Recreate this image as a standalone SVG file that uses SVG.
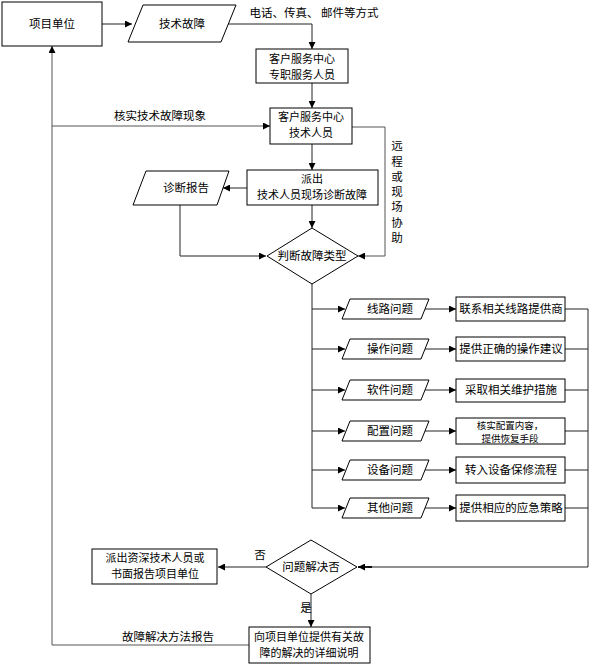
<svg xmlns="http://www.w3.org/2000/svg" width="592" height="666" viewBox="0 0 592 666">
<defs>
<style>
.n{fill:#fff;stroke:#000;stroke-width:1}
.t{font-family:"Noto Sans CJK SC","Liberation Sans",sans-serif;font-size:11.5px;fill:#000;text-anchor:middle}
.m{font-size:11px}
.s{font-size:9.5px}
.c{fill:none;stroke:#222;stroke-width:1}
.g{stroke:#555}
.b{stroke-width:1.8;stroke:#000}
</style>
<marker id="a" viewBox="0 0 10 10" refX="10" refY="5" markerWidth="9" markerHeight="7" markerUnits="userSpaceOnUse" orient="auto"><path d="M0,0 L10,5 L0,10 z" fill="#000"/></marker>
</defs>
<rect width="592" height="666" fill="#fff"/>
<g id="connectors">
<path class="c" d="M102,24 H132" marker-end="url(#a)"/>
<path class="c" d="M228,24 H312 V49" marker-end="url(#a)"/>
<path class="c" d="M312,83 V108" marker-end="url(#a)"/>
<path class="c" d="M312,144 V170" marker-end="url(#a)"/>
<path class="c" d="M312,205 V228" marker-end="url(#a)"/>
<path class="c" d="M247,188 H223" marker-end="url(#a)"/>
<path class="c" d="M180,205 V256 H266" marker-end="url(#a)"/>
<path class="c g" d="M352,127 H385 V256 H358" marker-end="url(#a)"/>
<path class="c" d="M312,284 V508"/>
<path class="c" d="M312,309 H345" marker-end="url(#a)"/>
<path class="c" d="M425,309 H456" marker-end="url(#a)"/>
<path class="c" d="M565,309 H588"/>
<path class="c" d="M312,349 H345" marker-end="url(#a)"/>
<path class="c" d="M425,349 H456" marker-end="url(#a)"/>
<path class="c" d="M565,349 H588"/>
<path class="c" d="M312,390 H345" marker-end="url(#a)"/>
<path class="c" d="M425,390 H456" marker-end="url(#a)"/>
<path class="c" d="M565,390 H588"/>
<path class="c" d="M312,431 H345" marker-end="url(#a)"/>
<path class="c" d="M425,431 H456" marker-end="url(#a)"/>
<path class="c" d="M565,431 H588"/>
<path class="c" d="M312,470 H345" marker-end="url(#a)"/>
<path class="c" d="M425,470 H456" marker-end="url(#a)"/>
<path class="c" d="M565,470 H588"/>
<path class="c" d="M312,508 H345" marker-end="url(#a)"/>
<path class="c" d="M425,508 H456" marker-end="url(#a)"/>
<path class="c" d="M565,508 H588"/>
<path class="c" d="M588,309 V567 H368"/>
<path class="c b" d="M372,567 H358" marker-end="url(#a)"/>
<path class="c" d="M266,567 H218" marker-end="url(#a)"/>
<path class="c" d="M311,594 V627" marker-end="url(#a)"/>
<path class="c g" d="M249,645 H52 V46" marker-end="url(#a)"/>
<path class="c g" d="M52,126 H270" marker-end="url(#a)"/>
<text class="t" x="314" y="17">电话、传真、 邮件等方式</text>
<text class="t" x="160" y="120">核实技术故障现象</text>
<text class="t" x="168" y="641">故障解决方法报告</text>
<text class="t" x="260" y="559">否</text>
<text class="t" x="306" y="612">是</text>
<g class="t">
<text x="397" y="150">远</text>
<text x="397" y="166">程</text>
<text x="397" y="181">或</text>
<text x="397" y="196">现</text>
<text x="397" y="211">场</text>
<text x="397" y="227">协</text>
<text x="397" y="242">助</text>
</g>
</g>
<g id="n1"><rect class="n" x="2" y="2" width="100" height="44"/><text class="t" x="52" y="28">项目单位</text></g>
<g id="n2"><polygon class="n" points="143,5 236,5 221,42 128,42"/><text class="t" x="182" y="28">技术故障</text></g>
<g id="n3"><rect class="n" x="256" y="49" width="92" height="34"/><text class="t m" x="302" y="63">客户服务中心</text><text class="t m" x="302" y="79">专职服务人员</text></g>
<g id="n4"><rect class="n" x="270" y="108" width="82" height="36"/><text class="t m" x="311" y="121">客户服务中心</text><text class="t m" x="311" y="137">技术人员</text></g>
<g id="n5"><rect class="n" x="247" y="170" width="131" height="35"/><text class="t m" x="312" y="183">派出</text><text class="t m" x="312" y="199">技术人员现场诊断故障</text></g>
<g id="n6"><polygon class="n" points="146,171 229,171 217,205 133,205"/><text class="t" x="186" y="192">诊断报告</text></g>
<g id="n7"><polygon class="n" points="312,228 358,256 312,284 267,256"/><text class="t" x="312" y="260">判断故障类型</text></g>
<g id="p1"><polygon class="n" points="350,299 429,299 421,319 342,319"/><text class="t" x="390" y="313">线路问题</text></g>
<g id="p2"><polygon class="n" points="350,339 429,339 421,359 342,359"/><text class="t" x="390" y="353">操作问题</text></g>
<g id="p3"><polygon class="n" points="350,380 429,380 421,400 342,400"/><text class="t" x="390" y="394">软件问题</text></g>
<g id="p4"><polygon class="n" points="350,421 429,421 421,441 342,441"/><text class="t" x="390" y="435">配置问题</text></g>
<g id="p5"><polygon class="n" points="350,460 429,460 421,480 342,480"/><text class="t" x="390" y="474">设备问题</text></g>
<g id="p6"><polygon class="n" points="350,498 429,498 421,518 342,518"/><text class="t" x="390" y="512">其他问题</text></g>
<g id="r1"><rect class="n" x="456" y="297" width="109" height="24"/><text class="t" x="511" y="313">联系相关线路提供商</text></g>
<g id="r2"><rect class="n" x="456" y="337" width="109" height="24"/><text class="t" x="511" y="353">提供正确的操作建议</text></g>
<g id="r3"><rect class="n" x="456" y="379" width="109" height="23"/><text class="t" x="511" y="394">采取相关维护措施</text></g>
<g id="r4"><rect class="n" x="456" y="418" width="109" height="26"/><text class="t s" x="510" y="428.5">核实配置内容，</text><text class="t s" x="510" y="442">提供恢复手段</text></g>
<g id="r5"><rect class="n" x="456" y="457" width="109" height="26"/><text class="t" x="511" y="474">转入设备保修流程</text></g>
<g id="r6"><rect class="n" x="456" y="495" width="109" height="26"/><text class="t" x="511" y="512">提供相应的应急策略</text></g>
<g id="n8"><polygon class="n" points="311,540 357,567 311,594 266,567"/><text class="t" x="311" y="571">问题解决否</text></g>
<g id="n9"><rect class="n" x="92" y="549" width="125" height="35"/><text class="t m" x="155" y="562">派出资深技术人员或</text><text class="t m" x="155" y="578">书面报告项目单位</text></g>
<g id="n10"><rect class="n" x="249" y="627" width="121" height="36"/><text class="t m" x="309" y="641">向项目单位提供有关故</text><text class="t m" x="309" y="657">障的解决的详细说明</text></g>
</svg>
